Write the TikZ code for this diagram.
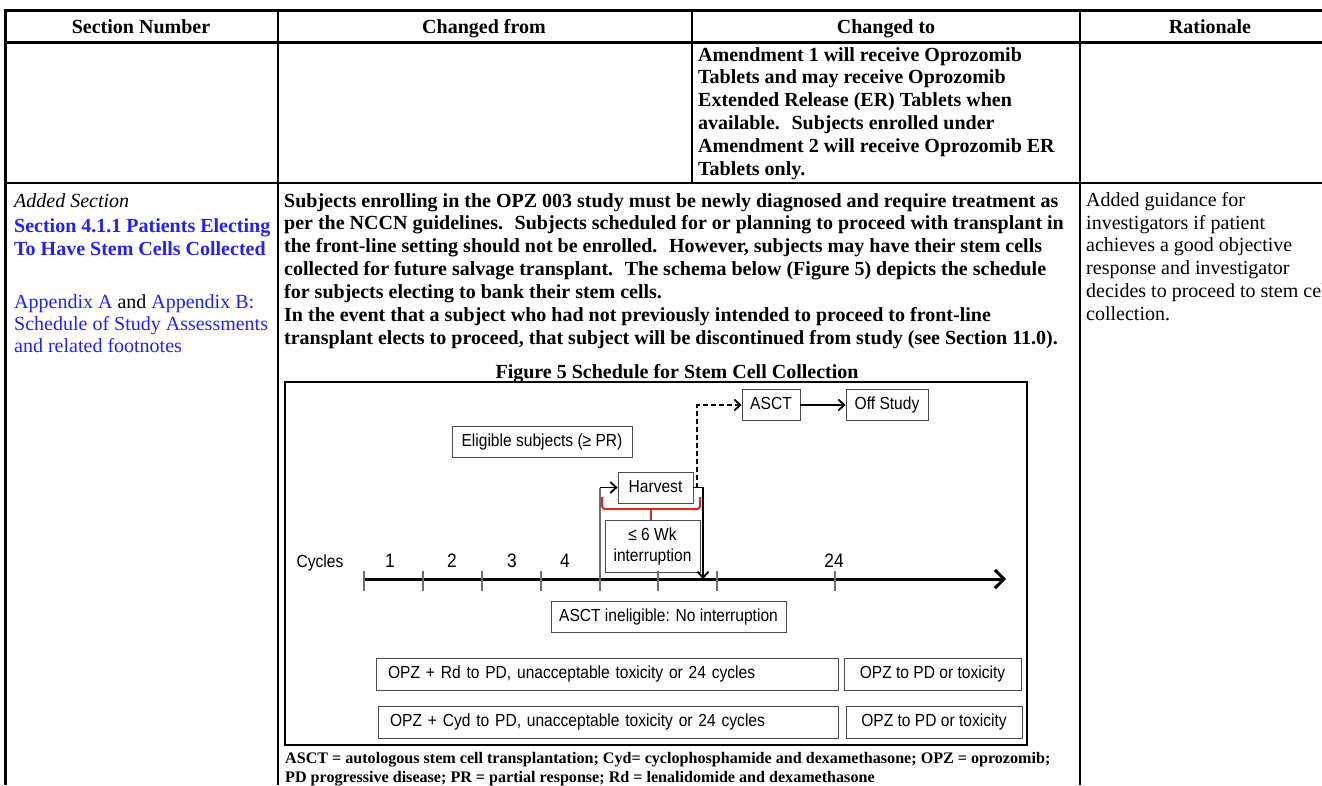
\documentclass[tikz,border=0pt]{standalone}
\usepackage{fontspec}
\setmainfont{Liberation Serif}
\newfontfamily\figfont[FakeStretch=0.89]{Liberation Sans}
\usetikzlibrary{arrows.meta, positioning}
\definecolor{cblue}{HTML}{2222F5}
\definecolor{cred}{HTML}{E02424}
\definecolor{cgrey}{HTML}{6E6E6E}
\definecolor{cedge}{HTML}{4A4A4A}
\tikzset{
  every picture/.style={x=1pt, y=-1pt},
  rule/.style={line width=1.3pt},
  thickrule/.style={line width=3pt},
  head/.style={anchor=base, inner sep=0pt, font=\fontsize{20}{23}\selectfont\bfseries},
  cell/.style={anchor=north west, inner sep=0pt, align=left, font=\fontsize{20}{22.8}\selectfont},
  boldcell/.style={cell, font=\fontsize{20}{22.9}\selectfont\bfseries},
  figtext/.style={inner sep=0pt, font=\figfont\fontsize{17.5}{21}\selectfont},
  figbox/.style={figtext, draw=cedge, line width=0.8pt, minimum height=31pt},
  onebox/.style={figbox, text height=12.5pt, text depth=3.5pt},
  rowbox/.style={onebox, minimum height=32pt, inner xsep=12pt, align=left},
  flow/.style={-{Straight Barb[length=6pt, width=11pt]}, line width=1.8pt},
  maybe/.style={flow, dash pattern=on 5pt off 3pt},
  axis/.style={-{Straight Barb[length=9pt, width=18pt]}, line width=3pt},
  guide/.style={draw=cgrey, line width=1.2pt},
  tick/.style={draw=cgrey, line width=1.6pt},
  brace/.style={draw=cred, line width=2pt, rounded corners=3pt},
}

\begin{document}
\begin{tikzpicture}
  \useasboundingbox (0,0) rectangle (1322,785);
  \clip (0,0) rectangle (1322,785);

  % ---- table rules
  \draw[thickrule] (5,10) -- (1322,10);
  \draw[thickrule] (5,42) -- (1322,42);
  \draw[thickrule] (5,8.5) -- (5,785);
  \draw[rule] (278,10) -- (278,785);
  \draw[rule] (1080,10) -- (1080,785);
  \draw[rule] (692,10) -- (692,183);
  \draw[rule] (5,183) -- (1322,183);

  % ---- header
  \node[head] (hsec)  at (141,33)  {Section Number};
  \node[head] (hfrom) at (484,33)  {Changed from};
  \node[head] (hto)   at (886,33)  {Changed to};
  \node[head] (hwhy)  at (1210,33) {Rationale};

  % ---- first row
  \node[boldcell] (amend) at (698,47) {Amendment 1 will receive Oprozomib\\
    Tablets and may receive Oprozomib\\
    Extended Release (ER) Tablets when\\
    available.~ Subjects enrolled under\\
    Amendment 2 will receive Oprozomib ER\\
    Tablets only.};

  % ---- second row
  \node[cell] (added) at (14,193) {\textit{Added Section}\\[3pt]
    \color{cblue}\textbf{Section 4.1.1 Patients Electing}\\
    \color{cblue}\textbf{To Have Stem Cells Collected}\\[30pt]
    \color{cblue}Appendix A \color{black}and \color{cblue}Appendix B:\\[-1pt]
    \color{cblue}Schedule of Study Assessments\\[-1pt]
    \color{cblue}and related footnotes};
  \node[boldcell] (body) at (284,193) {Subjects enrolling in the OPZ 003 study must be newly diagnosed and require treatment as\\
    per the NCCN guidelines.~ Subjects scheduled for or planning to proceed with transplant in\\
    the front-line setting should not be enrolled.~ However, subjects may have their stem cells\\
    collected for future salvage transplant.~ The schema below (Figure 5) depicts the schedule\\
    for subjects electing to bank their stem cells.\\
    In the event that a subject who had not previously intended to proceed to front-line\\
    transplant elects to proceed, that subject will be discontinued from study (see Section 11.0).};
  \node[head] (figtitle) at (677,378) {Figure 5 Schedule for Stem Cell Collection};
  \node[cell] (why) at (1086,192) {Added guidance for\\
    investigators if patient\\
    achieves a good objective\\
    response and investigator\\
    decides to proceed to stem cell\\
    collection.};

  % ---- schema
  \draw[rule] (285,382) rectangle (1027,745);
  \node[onebox, minimum width=180pt] (elig) at (542,441.5) {Eligible subjects (≥ PR)};
  \node[onebox, minimum width=75pt] (harv) at (655.5,487.5) {Harvest};
  \node[onebox, minimum width=58pt] (asct) at (771,405) {ASCT};
  \node[onebox, minimum width=82pt] (off) at (887,405) {Off Study};
  \node[figbox, minimum width=95pt, minimum height=52pt, align=center] (wk) at (652.5,546) {≤ 6 Wk\\interruption};
  \node[onebox, minimum width=235pt] (inel) at (668.5,617) {ASCT ineligible: No interruption};
  \node[rowbox, text width=438pt] (rd) at (607,674) {OPZ + Rd to PD, unacceptable toxicity or 24 cycles};
  \node[onebox, minimum width=177pt, minimum height=32pt] (rdmain) at (932.5,674) {OPZ to PD or toxicity};
  \node[rowbox, text width=436pt] (cyd) at (608,722) {OPZ + Cyd to PD, unacceptable toxicity or 24 cycles};
  \node[onebox, minimum width=176pt, minimum height=32pt] (cydmain) at (934,722) {OPZ to PD or toxicity};

  % cycles axis
  \node[figtext] (cyc) at (320,563) {Cycles};
  \foreach \x/\n in {390/1, 452/2, 512/3, 565/4, 834/24}
    \node[figtext, font=\figfont\fontsize{19.5}{21}\selectfont] (c\n) at (\x,561) {\n};
  \coordinate (ax0) at (364,579);
  \coordinate (ax1) at (1006,579);
  \draw[axis] (ax0) -- (ax1);
  \foreach \x in {364,423,482,541,600,658,717,835}
    \draw[tick] (\x,571) -- (\x,591);

  % harvest detour
  \coordinate (t5) at (600,579);
  \coordinate (up5) at (600,487.5);
  \coordinate (land) at (703,579);
  \coordinate (dfoot) at (697,487.5);
  \draw[guide] (t5) -- (up5);
  \draw[flow] (up5) -- (harv.west);
  \draw[flow] (harv.east) -| (land);
  \draw[maybe] (dfoot) |- (asct.west);
  \draw[flow] (asct) -- (off);

  % interruption brace
  \coordinate (bl) at (602,497);
  \coordinate (br) at (700,497);
  \coordinate (bm) at (651,509);
  \draw[brace] (bl) |- (bm) -| (br);
  \draw[brace] (bm) -- (bm |- wk.north);

  % key
  \node[cell, font=\fontsize{16.1}{19}\selectfont\bfseries] (key) at (285,752) {ASCT = autologous stem cell transplantation; Cyd= cyclophosphamide and dexamethasone; OPZ = oprozomib;\\
    PD progressive disease; PR = partial response; Rd = lenalidomide and dexamethasone};
\end{tikzpicture}
\end{document}
